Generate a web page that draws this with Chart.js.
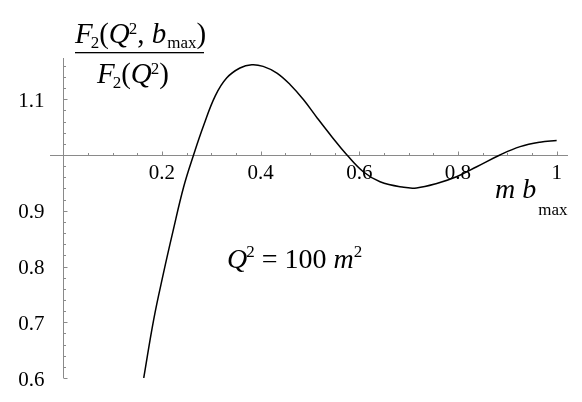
<!DOCTYPE html>
<html>
<head>
<meta charset="utf-8">
<script src="https://cdn.jsdelivr.net/npm/chart.js@4"></script>
<style>
  html, body { margin: 0; padding: 0; background: #fff; }
  #wrap { width: 582px; height: 402px; }
</style>
</head>
<body>
<div id="wrap"><canvas id="plot" width="582" height="402"></canvas></div>
<script>
// curve: m*b_max vs F2(Q^2,b_max)/F2(Q^2)
const mbValues = [0.163, 0.183, 0.203, 0.222, 0.244, 0.264, 0.284, 0.308, 0.331, 0.358, 0.382, 0.405, 0.433, 0.460, 0.487, 0.515, 0.545, 0.575, 0.608, 0.642, 0.690, 0.716, 0.757, 0.797, 0.838, 0.885, 0.926, 0.966, 1.0];
const ratioValues = [0.600, 0.704, 0.788, 0.862, 0.943, 1.000, 1.052, 1.106, 1.138, 1.156, 1.162, 1.159, 1.147, 1.126, 1.099, 1.066, 1.032, 1.000, 0.970, 0.952, 0.942, 0.941, 0.949, 0.961, 0.979, 1.000, 1.015, 1.023, 1.026];

// axis ticks
const xTicks = [0.2, 0.4, 0.6, 0.8, 1];
const xTickLabels = ['0.2', '0.4', '0.6', '0.8', '1'];
const yTicks = [0.6, 0.7, 0.8, 0.9, 1.1];
const yTickLabels = ['0.6', '0.7', '0.8', '0.9', '1.1'];

const SERIF = '"Liberation Serif", "DejaVu Serif", serif';

// draw a row of text pieces (italic letters, sub/superscripts)
function drawRuns(ctx, x, y, runs) {
  ctx.textAlign = 'left';
  ctx.textBaseline = 'alphabetic';
  runs.forEach(r => {
    ctx.font = (r.italic ? 'italic ' : '') + r.size + 'px ' + SERIF;
    ctx.fillText(r.t, x + (r.dx || 0), y + (r.dy || 0));
    x += ctx.measureText(r.t).width + (r.dx || 0);
  });
  return x;
}

// Mathematica style axes crossing at (0, 1)
const axesPlugin = {
  id: 'mmaAxes',
  beforeDatasetsDraw(chart) {
    const ctx = chart.ctx;
    const xs = chart.scales.x, ys = chart.scales.y;
    const area = chart.chartArea;
    const x0 = Math.round(xs.getPixelForValue(0)) + 0.5;
    const y0 = Math.round(ys.getPixelForValue(1)) + 0.5;

    ctx.save();
    ctx.strokeStyle = '#8a8a8a';
    ctx.lineWidth = 1;
    ctx.beginPath();
    ctx.moveTo(area.left, y0); ctx.lineTo(area.right, y0);
    ctx.moveTo(x0, area.top); ctx.lineTo(x0, area.bottom);

    // x ticks, pointing up
    for (let i = 1; i <= 20; i++) {
      const v = i * 0.05;
      const px = Math.round(xs.getPixelForValue(v)) + 0.5;
      const len = (i % 4 === 0) ? 4 : 2.5;
      ctx.moveTo(px, y0); ctx.lineTo(px, y0 - len);
    }
    // y ticks, pointing right
    for (let i = 0; i <= 28; i++) {
      const v = 0.6 + i * 0.02;
      if (Math.abs(v - 1) < 1e-6) continue;
      const py = Math.round(ys.getPixelForValue(v)) + 0.5;
      const len = (i % 5 === 0) ? 4 : 2.5;
      ctx.moveTo(x0, py); ctx.lineTo(x0 + len, py);
    }
    ctx.stroke();

    // tick labels
    ctx.fillStyle = '#000';
    ctx.font = '21px ' + SERIF;
    ctx.textBaseline = 'alphabetic';
    ctx.textAlign = 'center';
    xTicks.forEach((v, i) => {
      ctx.fillText(xTickLabels[i], xs.getPixelForValue(v), y0 + 23);
    });
    ctx.textAlign = 'right';
    yTicks.forEach((v, i) => {
      ctx.fillText(yTickLabels[i], x0 - 19, ys.getPixelForValue(v) + 7.5);
    });
    ctx.restore();
  },
  afterDraw(chart) {
    const ctx = chart.ctx;
    ctx.save();
    ctx.fillStyle = '#000';

    // y axis label as a fraction
    drawRuns(ctx, 75, 43, [
      { t: 'F', italic: true, size: 29 },
      { t: '2', size: 17, dy: 5, dx: -2 },
      { t: '(', size: 29 },
      { t: 'Q', italic: true, size: 29 },
      { t: '2', size: 17, dy: -9, dx: -1 },
      { t: ', ', size: 29 },
      { t: 'b', italic: true, size: 29 },
      { t: 'max', size: 17, dy: 5, dx: 1 },
      { t: ')', size: 29 }
    ]);
    ctx.fillRect(75, 52, 129, 1.3);
    drawRuns(ctx, 97, 83, [
      { t: 'F', italic: true, size: 29 },
      { t: '2', size: 17, dy: 5, dx: -2 },
      { t: '(', size: 29 },
      { t: 'Q', italic: true, size: 29 },
      { t: '2', size: 17, dy: -9, dx: -1 },
      { t: ')', size: 29 }
    ]);

    // x axis label
    drawRuns(ctx, 495, 198, [
      { t: 'm', italic: true, size: 28 },
      { t: ' ', size: 28 },
      { t: 'b', italic: true, size: 28 },
      { t: 'max', size: 17, dy: 17, dx: 2 }
    ]);

    // annotation
    drawRuns(ctx, 227, 268, [
      { t: 'Q', italic: true, size: 28 },
      { t: '2', size: 17, dy: -11, dx: -1 },
      { t: ' = 100 ', size: 28 },
      { t: 'm', italic: true, size: 28 },
      { t: '2', size: 17, dy: -11 }
    ]);
    ctx.restore();
  }
};

const ctx = document.getElementById('plot').getContext('2d');
const chart = new Chart(ctx, {
  type: 'scatter',
  data: {
    datasets: [{
      data: mbValues.map((x, i) => ({ x: x, y: ratioValues[i] })),
      showLine: true,
      borderColor: '#000',
      borderWidth: 1.5,
      pointRadius: 0,
      tension: 0.4
    }]
  },
  options: {
    responsive: false,
    animation: false,
    layout: { padding: { left: 50, right: 14, top: 58, bottom: 24 } },
    plugins: { legend: { display: false }, tooltip: { enabled: false } },
    scales: {
      x: { type: 'linear', min: -0.027, max: 1.023, display: false },
      y: { type: 'linear', min: 0.6, max: 1.174, display: false }
    }
  },
  plugins: [axesPlugin]
});
</script>
</body>
</html>
